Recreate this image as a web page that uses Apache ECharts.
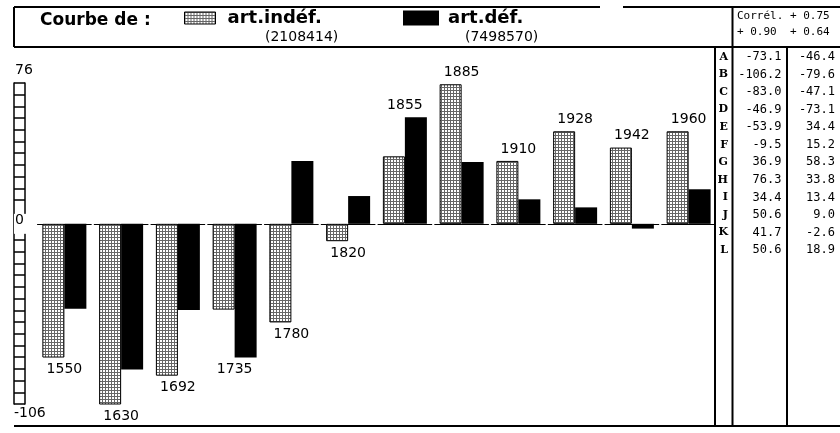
<!DOCTYPE html>
<html>
<head>
    <meta charset="utf-8">
    <title>Courbe de : art.indéf. / art.déf.</title>
    <script src="https://cdn.jsdelivr.net/npm/echarts@6/dist/echarts.min.js"></script>
    <style>
        html, body { margin: 0; padding: 0; background: #fff; }
        #main { width: 840px; height: 433px; }
    </style>
</head>
<body>
<div id="main"></div>
<script>
    // data (table on the right gives the exact values)
    var years = ['1550', '1630', '1692', '1735', '1780', '1820', '1855', '1885', '1910', '1928', '1942', '1960'];
    var rowLetters = ['A', 'B', 'C', 'D', 'E', 'F', 'G', 'H', 'I', 'J', 'K', 'L'];
    var indefValues = [-73.1, -106.2, -83.0, -46.9, -53.9, -9.5, 36.9, 76.3, 34.4, 50.6, 41.7, 50.6];
    var defValues = [-46.4, -79.6, -47.1, -73.1, 34.4, 15.2, 58.3, 33.8, 13.4, 9.0, -2.6, 18.9];
    var seriesNames = ['art.indéf.', 'art.déf.'];
    var seriesTotals = ['(2108414)', '(7498570)'];
    var corrLines = ['Corrél. + 0.75', '+ 0.90  + 0.64'];
    var yTickLabels = ['76', '0', '-106'];

    // the original scale stops short of the lowest bar, which gets clipped
    var yMin = -98.5, yMax = 77, ladderStep = 6.4;

    var font = '"DejaVu Sans", sans-serif';
    var mono = '"DejaVu Sans Mono", monospace';

    // fine dotted fill of the Mac-style pattern
    function dotPattern() {
        var c = document.createElement('canvas');
        c.width = 3;
        c.height = 3;
        var ctx = c.getContext('2d');
        ctx.fillStyle = '#fff';
        ctx.fillRect(0, 0, 3, 3);
        ctx.fillStyle = '#666';
        ctx.fillRect(0, 0, 3, 1);
        ctx.fillRect(0, 0, 1, 3);
        return c;
    }
    var dots = {image: dotPattern(), repeat: 'repeat'};

    // rungs of the ladder, hung from the top and from the bottom
    var rungs = [];
    for (var v = yMax; v > 9; v -= ladderStep) rungs.push(v);
    for (var w = yMin; w < -2; w += ladderStep) rungs.push(w);

    var labelData = years.map(function (y, i) {
        return [i, indefValues[i], defValues[i]];
    });
    var tableData = [];
    rowLetters.forEach(function (l, r) {
        tableData.push([0, r, indefValues[r]]);
        tableData.push([1, r, defValues[r]]);
    });

    function line(x1, y1, x2, y2) {
        return {
            type: 'line', silent: true,
            shape: {x1: x1, y1: y1, x2: x2, y2: y2},
            style: {stroke: '#000', lineWidth: 2}
        };
    }
    function text(x, y, t, f, align) {
        return {
            type: 'text', silent: true, x: x, y: y,
            style: {text: t, font: f, fill: '#000', align: align || 'left', verticalAlign: 'middle'}
        };
    }

    var chart = echarts.init(document.getElementById('main'), null, {renderer: 'canvas'});

    var option = {
        backgroundColor: '#fff',
        animation: false,
        grid: [
            {left: 36, right: 123, top: 83, bottom: 29},
            {left: 733, right: 0, top: 48, height: 211}
        ],
        legend: [
            {
                data: [seriesNames[0]], left: 184, top: 9, padding: 0,
                icon: 'rect', itemWidth: 31, itemHeight: 12,
                itemStyle: {borderColor: '#000', borderWidth: 1},
                textStyle: {color: '#000', fontFamily: font, fontWeight: 'bold', fontSize: 18, padding: [0, 0, 0, 7]}
            },
            {
                data: [seriesNames[1]], left: 403, top: 9, padding: 0,
                icon: 'rect', itemWidth: 36, itemHeight: 15,
                textStyle: {color: '#000', fontFamily: font, fontWeight: 'bold', fontSize: 18, padding: [0, 0, 0, 4]}
            }
        ],
        xAxis: [
            {
                type: 'category', gridIndex: 0, data: years,
                axisLine: {onZero: true, lineStyle: {color: '#000', width: 1, type: [53.75, 3], dashOffset: 55.25}},
                axisTick: {show: false}, axisLabel: {show: false}, splitLine: {show: false}
            },
            {
                type: 'category', gridIndex: 1, data: seriesNames,
                axisLine: {show: false}, axisTick: {show: false}, axisLabel: {show: false}, splitLine: {show: false}
            }
        ],
        yAxis: [
            {
                type: 'value', gridIndex: 0, min: yMin, max: yMax, position: 'left', offset: 22,
                axisLine: {show: true, lineStyle: {color: '#000', width: 1.5}},
                axisTick: {show: true, inside: true, length: 11, customValues: rungs, lineStyle: {color: '#000', width: 1.5}},
                axisLabel: {show: false}, splitLine: {show: false}
            },
            {
                type: 'value', gridIndex: 0, min: yMin, max: yMax, position: 'left', offset: 11,
                axisLine: {show: true, lineStyle: {color: '#000', width: 1.5}},
                axisTick: {show: false}, axisLabel: {show: false}, splitLine: {show: false}
            },
            {
                type: 'value', gridIndex: 0, min: yMin, max: yMax, position: 'left', offset: 22, z: 5,
                axisLine: {show: false}, axisTick: {show: false}, splitLine: {show: false},
                axisLabel: {
                    show: true, inside: true, margin: 0,
                    customValues: [yMax, 0, yMin],
                    formatter: function (val) {
                        if (val === yMax) return '{t|' + yTickLabels[0] + '}';
                        if (val === yMin) return '{b|' + yTickLabels[2] + '}';
                        return '{z|' + yTickLabels[1] + '}';
                    },
                    rich: {
                        t: {fontFamily: font, fontSize: 14, color: '#000', lineHeight: 14, padding: [0, 0, 26, 1]},
                        b: {fontFamily: font, fontSize: 14, color: '#000', lineHeight: 14, padding: [18, 0, 0, 0]},
                        z: {fontFamily: font, fontSize: 14, color: '#000', lineHeight: 12, padding: [0, 4, 6, 1], backgroundColor: '#fff'}
                    }
                }
            },
            {
                type: 'category', gridIndex: 1, data: rowLetters, inverse: true,
                axisLine: {show: false}, axisTick: {show: false}, splitLine: {show: false},
                axisLabel: {margin: 5, color: '#000', fontFamily: '"DejaVu Serif", serif', fontWeight: 'bold', fontSize: 11}
            }
        ],
        series: [
            {
                name: seriesNames[0], type: 'bar', xAxisIndex: 0, yAxisIndex: 0,
                data: indefValues, barWidth: 22, barGap: '0%',
                itemStyle: {color: dots, borderColor: '#000', borderWidth: 1}
            },
            {
                name: seriesNames[1], type: 'bar', xAxisIndex: 0, yAxisIndex: 0,
                data: defValues, barWidth: 22, barGap: '0%',
                itemStyle: {color: '#000'}
            },
            {
                // year written past the farthest bar, on the side of art.indéf.
                type: 'custom', xAxisIndex: 0, yAxisIndex: 0, data: labelData, silent: true,
                renderItem: function (params, api) {
                    var i = api.value(0), a = api.value(1), b = api.value(2);
                    var up = a >= 0;
                    var ext = up ? Math.max(a, b) : Math.min(a, b);
                    ext = Math.max(Math.min(ext, yMax), yMin);
                    var p = api.coord([i, ext]);
                    return {
                        type: 'text', x: p[0], y: up ? p[1] - 5 : p[1] + 5,
                        style: {
                            text: years[i], font: '14px ' + font, fill: '#000',
                            align: 'center', verticalAlign: up ? 'bottom' : 'top'
                        }
                    };
                }
            },
            {
                type: 'custom', xAxisIndex: 1, yAxisIndex: 3, data: tableData, silent: true,
                renderItem: function (params, api) {
                    var p = api.coord([api.value(0), api.value(1)]);
                    var half = api.size([1, 1])[0] / 2;
                    return {
                        type: 'text', x: p[0] + half - 5, y: p[1],
                        style: {
                            text: api.value(2).toFixed(1), font: '12px ' + mono, fill: '#000',
                            align: 'right', verticalAlign: 'middle'
                        }
                    };
                }
            }
        ],
        graphic: [
            line(14, 7, 600, 7), line(623, 7, 840, 7),
            line(14, 7, 14, 47), line(14, 47, 840, 47),
            line(732.5, 7, 732.5, 426), line(715, 47, 715, 426), line(787, 47, 787, 426),
            line(14, 426, 840, 426),
            text(40, 21, 'Courbe de :', 'bold 17px ' + font),
            text(265, 37, seriesTotals[0], '14px ' + font),
            text(465, 37, seriesTotals[1], '14px ' + font),
            text(737, 16, corrLines[0], '11px ' + mono),
            text(737, 32, corrLines[1], '11px ' + mono)
        ]
    };

    chart.setOption(option);
</script>
</body>
</html>
